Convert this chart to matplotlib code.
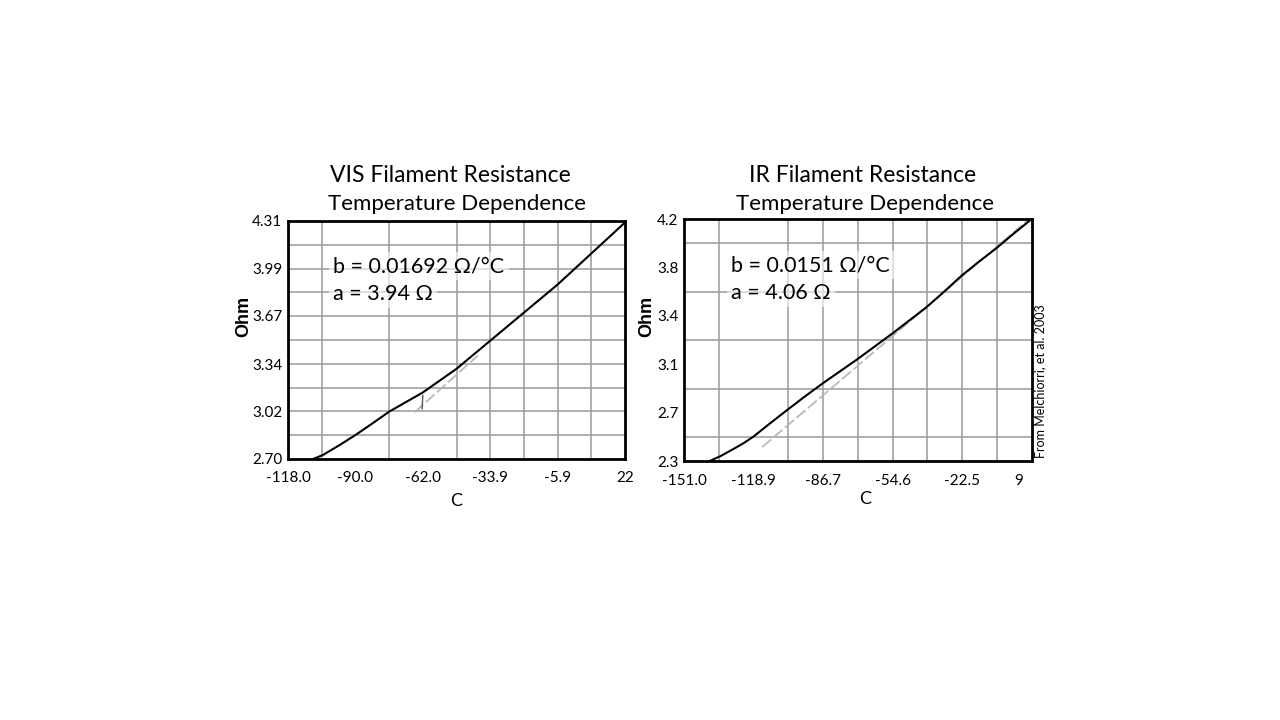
import numpy as np
import matplotlib.pyplot as plt
from matplotlib.transforms import ScaledTranslation

plt.rcParams['font.family'] = ['Lato', 'DejaVu Sans']

# VIS filament (C, Ohm)
vis_temp = [-107.6, -103.5, -96.5, -90.0, -83.0, -76.0, -69.0, -62.0, -55.0, -48.0,
            -41.0, -34.0, -27.0, -20.0, -13.0, -6.0, 1.0, 8.0, 15.0, 22.0]
vis_ohm = [2.70, 2.727, 2.795, 2.862, 2.94, 3.02, 3.085, 3.15, 3.23, 3.31,
           3.405, 3.50, 3.595, 3.69, 3.785, 3.88, 3.985, 4.09, 4.195, 4.30]
vis_fit_temp = [-65.4, -39.1]
vis_fit_ohm = [3.016, 3.40]
vis_step_temp = [-62.3, -62.0]
vis_step_ohm = [3.04, 3.13]
vis_xticks = [-118.0, -90.0, -62.0, -33.9, -5.9, 22]
vis_xlabels = ['-118.0', '-90.0', '-62.0', '-33.9', '-5.9', '22']
vis_yticks = [2.70, 3.02, 3.34, 3.67, 3.99, 4.31]
vis_ylabels = ['2.70', '3.02', '3.34', '3.67', '3.99', '4.31']

# IR filament
ir_temp = [-139.1, -134.0, -129.1, -124.0, -119.1, -111.0, -103.0, -95.0, -87.0, -79.0,
           -71.0, -63.0, -55.0, -47.0, -39.0, -31.0, -23.0, -15.0, -7.0, 1.0, 9.0]
ir_ohm = [2.30, 2.34, 2.386, 2.435, 2.49, 2.60, 2.706, 2.81, 2.91, 3.005,
          3.10, 3.20, 3.30, 3.405, 3.51, 3.63, 3.755, 3.865, 3.97, 4.085, 4.195]
ir_fit_temp = [-114.9, -39.0, 9.5]
ir_fit_ohm = [2.41, 3.51, 4.22]
ir_xticks = [-151.0, -118.9, -86.7, -54.6, -22.5, 9.5]
ir_xlabels = ['-151.0', '-118.9', '-86.7', '-54.6', '-22.5', '9']
ir_yticks = [2.3, 2.68, 3.06, 3.44, 3.82, 4.2]
ir_ylabels = ['2.3', '2.7', '3.1', '3.4', '3.8', '4.2']

fig = plt.figure(figsize=(12.8, 7.2), dpi=100)
fig.patch.set_facecolor('white')


def draw_panel(rect, xlim, ylim, temp, ohm, fit_t, fit_o, xt, xl, yt, yl, btxt, atxt,
               ylab_x, xlab_pos):
    ax = fig.add_axes(rect)
    ax.set_xlim(*xlim)
    ax.set_ylim(*ylim)
    # 10 x 10 grid
    ax.set_xticks(np.linspace(xlim[0], xlim[1], 11), minor=True)
    ax.set_yticks(np.linspace(ylim[0], ylim[1], 11), minor=True)
    ax.grid(True, which='minor', color='#9a9a9a', lw=1.1)
    ax.set_axisbelow(True)
    ax.set_xticks(xt)
    ax.set_xticklabels(xl)
    ax.set_yticks(yt)
    ax.set_yticklabels(yl)
    ax.tick_params(which='both', length=0, labelsize=11, colors='black')
    ax.tick_params(axis='x', pad=9)
    ax.tick_params(axis='y', pad=4)
    for s in ax.spines.values():
        s.set_linewidth(2)
        s.set_color('black')
    ax.plot(fit_t, fit_o, color='#b5b5b5', lw=1.2, ls=(0, (7, 2)))
    ax.plot(temp, ohm, color='black', lw=1.5)
    ax.set_xlabel('C', fontsize=13)
    ax.xaxis.set_label_coords(*xlab_pos)
    ax.set_ylabel('Ohm', fontsize=13, fontweight='bold', family=['Liberation Sans', 'DejaVu Sans'])
    ax.yaxis.set_label_coords(ylab_x, 0.6)
    bb = dict(facecolor='white', edgecolor='none', alpha=0.6, pad=3)
    ax.text(0.135, 0.81, btxt, transform=ax.transAxes, fontsize=15.5, va='center', bbox=bb)
    ax.text(0.135, 0.695, atxt, transform=ax.transAxes, fontsize=15.5, va='center', bbox=bb)
    return ax


ax1 = draw_panel([0.225, 0.3625, 0.2633, 0.3306], (-118.0, 22.0), (2.70, 4.31),
                 vis_temp, vis_ohm, vis_fit_temp, vis_fit_ohm,
                 vis_xticks, vis_xlabels, vis_yticks, vis_ylabels,
                 'b = 0.01692 \u03a9/\u00b0C', 'a = 3.94 \u03a9', -0.107, (0.5, -0.143))
ax1.plot(vis_step_temp, vis_step_ohm, color='#555555', lw=1.0)

ax2 = draw_panel([0.5344, 0.3597, 0.2716, 0.3357], (-151.0, 9.5), (2.3, 4.2),
                 ir_temp, ir_ohm, ir_fit_temp, ir_fit_ohm,
                 ir_xticks, ir_xlabels, ir_yticks, ir_ylabels,
                 'b = 0.0151 \u03a9/\u00b0C', 'a = 4.06 \u03a9', -0.082, (0.52, -0.125))
lab = ax2.get_xticklabels()[-1]
lab.set_transform(lab.get_transform() + ScaledTranslation(-0.13, 0, fig.dpi_scale_trans))

fig.text(450 / 1280, 1 - 176 / 720, 'VIS Filament Resistance', ha='center', va='center', fontsize=16.5)
fig.text(457 / 1280, 1 - 204 / 720, 'Temperature Dependence', ha='center', va='center', fontsize=16)
fig.text(863 / 1280, 1 - 176 / 720, 'IR Filament Resistance', ha='center', va='center', fontsize=16.5)
fig.text(865 / 1280, 1 - 204 / 720, 'Temperature Dependence', ha='center', va='center', fontsize=16)
fig.text(1040 / 1280, 1 - 381 / 720, 'From Melchiorri, et al. 2003', rotation=90,
         ha='center', va='center', fontsize=9)

fig.savefig('out.png', dpi=100, facecolor='white')
